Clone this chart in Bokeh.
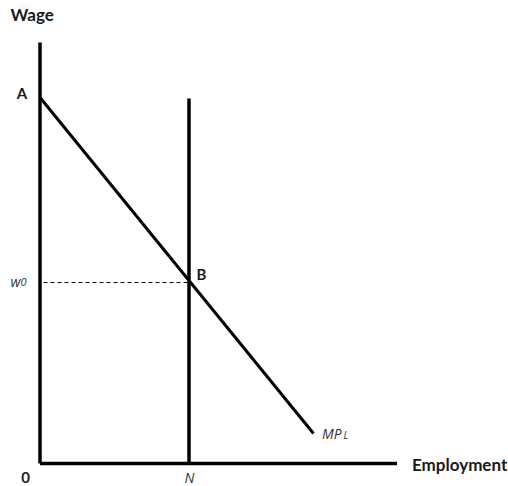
from bokeh.plotting import figure
from bokeh.models import Range1d
from bokeh.core.properties import value
from bokeh.embed import file_html
from bokeh.resources import INLINE

# Diagram coordinates (origin at 0; units arbitrary)
axis_y_top = 421
axis_x_right = 357
mpl_x = [0, 273.5]
mpl_y = [366, 30]
n_x = 149
n_top = 365
w0 = 181

label_text = ["Wage", "A", "B", "0", "N", "Employment"]

p = figure(width=508, height=486, output_backend="svg", toolbar_location=None,
           x_range=Range1d(-39.5, 468.5), y_range=Range1d(-23, 463), min_border=0)
p.axis.visible = False
p.grid.visible = False
p.outline_line_color = None
p.background_fill_color = "white"

# axes
p.line([0, 0], [0, axis_y_top], line_width=3.5, line_color="black")
p.line([0, axis_x_right], [0, 0], line_width=3.5, line_color="black")
# MPL
p.line(mpl_x, mpl_y, line_width=3, line_color="black")
# vertical N
p.line([n_x, n_x], [0, n_top], line_width=3.5, line_color="black")
# dashed w0
p.line([3.5, n_x], [w0, w0], line_width=1, line_color="black", line_dash="4 3")

def bold(size):
    return dict(text_font=value("Lato"), text_font_style="bold", text_font_size=size,
                text_color="#1a1a1a", text_baseline="middle")

def ital(size):
    return dict(text_font=value("Open Sans"), text_font_style="italic", text_font_size=size,
                text_color="#333333", text_baseline="middle")

p.text(x=[-29.5], y=[449], text=[label_text[0]], text_align="left", **bold("17px"))
p.text(x=[-18], y=[371], text=[label_text[1]], text_align="center", **bold("15px"))
p.text(x=[156.5], y=[190], text=[label_text[2]], text_align="left", **bold("15px"))
p.text(x=[-14.5], y=[-14], text=[label_text[3]], text_align="center", **bold("15px"))
p.text(x=[372], y=[-1], text=[label_text[5]], text_align="left", **bold("17px"))
p.text(x=[149.5], y=[-14], text=[label_text[4]], text_align="center", **ital("14px"))
p.text(x=[-29.5], y=[182], text=["w"], text_align="left", **ital("14px"))
p.text(x=[-19.5], y=[182], text=["0"], text_align="left", **ital("11px"))
p.text(x=[282], y=[30], text=["MP"], text_align="left", **ital("14px"))
p.text(x=[303.5], y=[29], text=["L"], text_align="left", **ital("10px"))

open("out.html", "w").write(file_html(p, INLINE))
